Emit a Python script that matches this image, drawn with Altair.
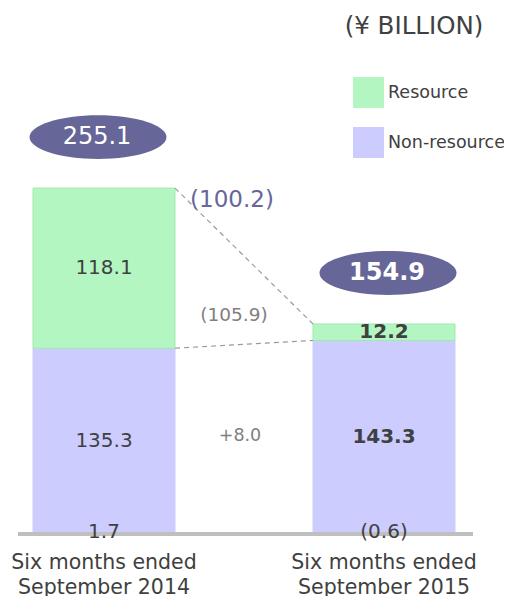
import altair as alt
import pandas as pd

# ---- data ----
cat_line1 = ["Six months ended", "Six months ended"]
cat_line2 = ["September 2014", "September 2015"]
resource = [118.1, 12.2]
non_resource = [135.3, 143.3]
other = [1.7, -0.6]
other_labels = ["1.7", "(0.6)"]
totals = [255.1, 154.9]
change_total = "(100.2)"
change_resource = "(105.9)"
change_non_resource = "+8.0"
series = ["Resource", "Non-resource"]

GREEN = "#b3f6c2"
GREEN_EDGE = "#9fe9b0"
LAV = "#ccccff"
PURPLE = "#666699"
DARK = "#404040"
GREY = "#808080"
FONT = "DejaVu Sans"

# ---- tables built from the arrays ----
seg_rows = []
lab_rows = []
for i in range(2):
    nr_top = non_resource[i] + other[i]
    seg_rows.append({"idx": i, "series": "Non-resource", "y0": 0, "y1": nr_top})
    seg_rows.append({"idx": i, "series": "Resource", "y0": nr_top, "y1": nr_top + resource[i]})
    lab_rows.append({"idx": i, "ym": nr_top / 2, "txt": f"{non_resource[i]:.1f}"})
    lab_rows.append({"idx": i, "ym": nr_top + resource[i] / 2, "txt": f"{resource[i]:.1f}"})
seg = pd.DataFrame(seg_rows)
labs = pd.DataFrame(lab_rows)

tot = pd.DataFrame({"idx": [0, 1], "total": totals, "txt": [f"{t:.1f}" for t in totals],
                    "other": other_labels, "l1": cat_line1, "l2": cat_line2, "zero": [0, 0]})

nr_tops = [non_resource[i] + other[i] for i in range(2)]
conn = pd.DataFrame({"xa": [0, 0], "xb": [1, 1],
                     "ya": [totals[0], nr_tops[0]], "yb": [totals[1], nr_tops[1]]})

ann_total = pd.DataFrame({"x": [0.5], "y": [totals[0]], "t": [change_total]})
ann_res = pd.DataFrame({"x": [0.5], "y": [(nr_tops[0] + nr_tops[1]) / 2], "t": [change_resource]})
ann_nr = pd.DataFrame({"x": [0.5], "y": [(nr_tops[0] + nr_tops[1]) / 4], "t": [change_non_resource]})
title_df = pd.DataFrame({"t": ["(¥ BILLION)"]})

xs = alt.Scale(domain=[-96 / 280, 400 / 280], nice=False, zero=False, padding=0)
ys = alt.Scale(domain=[-39.8, 387.9], nice=False, zero=False, padding=0)
X = alt.X("idx:Q", scale=xs, axis=None)
Y = lambda f: alt.Y(f, scale=ys, axis=None)

bars = alt.Chart(seg).mark_bar(size=142, strokeWidth=1).encode(
    x=X,
    y=Y("y0:Q"),
    y2="y1:Q",
    color=alt.Color("series:N", scale=alt.Scale(domain=series, range=[GREEN, LAV]),
                    legend=alt.Legend(title=None, orient="none", legendX=345, legendY=69,
                                      direction="vertical", symbolType="square",
                                      symbolSize=961, symbolStrokeWidth=0,
                                      labelFontSize=17.5, labelFont=FONT, labelColor=DARK,
                                      labelOffset=4, rowPadding=19, padding=0)),
    stroke=alt.Stroke("series:N", scale=alt.Scale(domain=series, range=[GREEN_EDGE, LAV]),
                      legend=None),
)

baseline = alt.Chart(tot).mark_rule(color="#bfbfbf", strokeWidth=4).encode(
    x=alt.value(10), x2=alt.value(465), y=Y("zero:Q"))

connectors = alt.Chart(conn).mark_rule(color="#9a9a9a", strokeWidth=1.2, strokeDash=[5, 4],
                                       xOffset=71, x2Offset=-71).encode(
    x=alt.X("xa:Q", scale=xs, axis=None), x2="xb:Q", y=Y("ya:Q"), y2="yb:Q")

ELLIPSE = "M -1 0 A 1 0.32 0 1 1 1 0 A 1 0.32 0 1 1 -1 0 Z"
ell_dx = [-6, 4]
ell_layers = []
for i in range(2):
    base = alt.Chart(tot).transform_filter(f"datum.idx == {i}")
    ell_layers.append(base.mark_point(shape=ELLIPSE, size=137 * 137, filled=True,
                                      color=PURPLE, opacity=1, strokeWidth=0,
                                      yOffset=-51, xOffset=ell_dx[i]).encode(
        x=X, y=Y("total:Q")))
    ell_layers.append(base.mark_text(color="white", fontSize=24, font=FONT,
                                     fontWeight="normal" if i == 0 else "bold",
                                     yOffset=-51, xOffset=ell_dx[i] - 1, baseline="middle").encode(
        x=X, y=Y("total:Q"), text="txt:N"))

seg_t0 = alt.Chart(labs).transform_filter("datum.idx == 0").mark_text(
    color=DARK, fontSize=20, font=FONT, baseline="middle").encode(x=X, y=Y("ym:Q"), text="txt:N")
seg_t1 = alt.Chart(labs).transform_filter("datum.idx == 1").mark_text(
    color=DARK, fontSize=20, font=FONT, fontWeight="bold", baseline="middle").encode(
    x=X, y=Y("ym:Q"), text="txt:N")

other_t = alt.Chart(tot).mark_text(color=DARK, fontSize=20, font=FONT, baseline="middle", dy=-2).encode(
    x=X, y=Y("zero:Q"), text="other:N")

cat1 = alt.Chart(tot).mark_text(color=DARK, fontSize=20.5, font=FONT, baseline="middle", dy=29).encode(
    x=X, y=Y("zero:Q"), text="l1:N")
cat2 = alt.Chart(tot).mark_text(color=DARK, fontSize=20.5, font=FONT, baseline="middle", dy=54).encode(
    x=X, y=Y("zero:Q"), text="l2:N")

a1 = alt.Chart(ann_total).mark_text(color=PURPLE, fontSize=23, font=FONT, baseline="middle",
                                    dx=-12, dy=12).encode(
    x=alt.X("x:Q", scale=xs, axis=None), y=Y("y:Q"), text="t:N")
a2 = alt.Chart(ann_res).mark_text(color=GREY, fontSize=18.5, font=FONT, baseline="middle",
                                  dx=-10, dy=-29).encode(
    x=alt.X("x:Q", scale=xs, axis=None), y=Y("y:Q"), text="t:N")
a3 = alt.Chart(ann_nr).mark_text(color=GREY, fontSize=17.5, font=FONT, baseline="middle",
                                 dx=-4, dy=-3).encode(
    x=alt.X("x:Q", scale=xs, axis=None), y=Y("y:Q"), text="t:N")

title = alt.Chart(title_df).mark_text(color=DARK, fontSize=24.5, font=FONT, baseline="middle").encode(
    x=alt.value(406), y=alt.value(19), text="t:N")

chart = alt.layer(
    bars, baseline, connectors, *ell_layers, seg_t0, seg_t1,
    other_t, cat1, cat2, a1, a2, a3, title
).properties(width=496, height=580, autosize="none",
             padding={"left": 0, "top": 0, "right": 0, "bottom": 8}).configure_view(stroke=None)

chart.save("out.html", embed_options={"renderer": "svg", "actions": False})
